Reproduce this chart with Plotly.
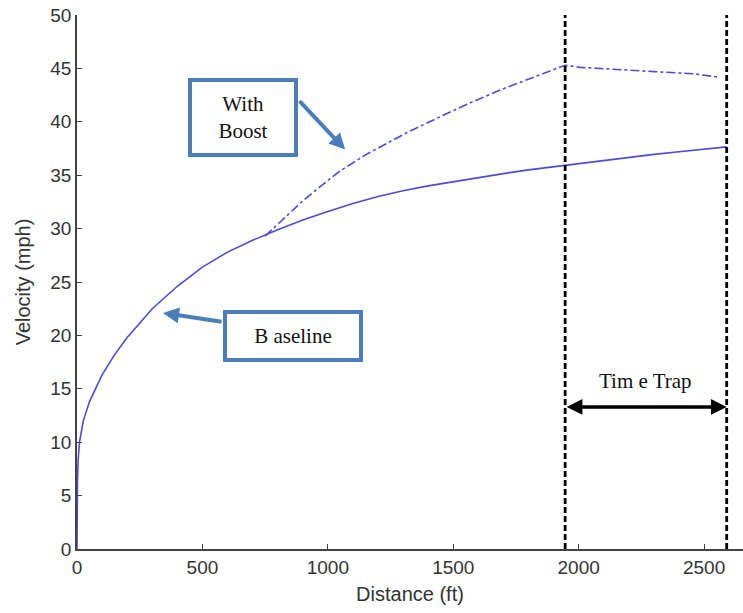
import plotly.graph_objects as go

# Baseline run: distance (ft) vs velocity (mph)
base_dist = [0, 0.5, 2, 5, 10, 25, 50, 100, 150, 200, 300, 400, 500, 600, 700,
             800, 900, 1000, 1100, 1200, 1300, 1400, 1500, 1600, 1700, 1800,
             1900, 2000, 2100, 2200, 2300, 2400, 2500, 2590]
base_vel = [0, 4.0, 6.5, 8.5, 10.0, 12.0, 13.8, 16.3, 18.2, 19.8, 22.5, 24.6,
            26.4, 27.8, 28.9, 29.9, 30.8, 31.6, 32.35, 33.0, 33.55, 34.0, 34.4,
            34.8, 35.15, 35.5, 35.8, 36.1, 36.4, 36.7, 36.95, 37.2, 37.45, 37.65]

# Run with boost engaged from ~750 ft
boost_dist = [750, 781, 900, 1000, 1049, 1150, 1316, 1450, 1580, 1700, 1800,
              1880, 1946, 2005, 2100, 2193, 2300, 2456, 2552]
boost_vel = [29.3, 30.0, 32.6, 34.5, 35.4, 36.9, 39.0, 40.5, 41.9, 43.1, 44.0,
             44.7, 45.3, 45.1, 44.95, 44.8, 44.7, 44.5, 44.2]

# Time trap boundaries (ft)
trap_edges = [1946, 2590]

x_ticks = [0, 500, 1000, 1500, 2000, 2500]
y_ticks = [0, 5, 10, 15, 20, 25, 30, 35, 40, 45, 50]

line_blue = "#4b4bdc"
box_blue = "#4a7ebb"

fig = go.Figure()

fig.add_trace(go.Scatter(x=base_dist, y=base_vel, mode="lines",
                         line=dict(color=line_blue, width=1.6),
                         showlegend=False))
fig.add_trace(go.Scatter(x=boost_dist, y=boost_vel, mode="lines",
                         line=dict(color=line_blue, width=1.6, dash="dashdot"),
                         showlegend=False))

for xe in trap_edges:
    fig.add_trace(go.Scatter(x=[xe, xe], y=[0, 50], mode="lines",
                             line=dict(color="black", width=2.8, dash="6px,3px"),
                             showlegend=False))

serif = "Liberation Serif"
label_font = dict(family=serif, size=21, color="#111")
annotations = [
    # "With Boost" label box and arrow
    dict(x=662, y=40.4, xref="x", yref="y", text="With<br>Boost", showarrow=False,
         font=label_font, bgcolor="white", bordercolor=box_blue, borderwidth=4,
         borderpad=2, width=98, height=67),
    dict(x=1069, y=37.4, xref="x", yref="y", text="", showarrow=True,
         ax=-47, ay=-50, arrowcolor=box_blue, arrowwidth=4, arrowhead=2,
         arrowsize=0.8),
    # "Baseline" label box and arrow
    dict(x=861, y=19.9, xref="x", yref="y", text="B aseline", showarrow=False,
         font=label_font, bgcolor="white", bordercolor=box_blue, borderwidth=4,
         borderpad=2, width=128, height=40),
    dict(x=343, y=22.1, xref="x", yref="y", text="", showarrow=True,
         ax=60, ay=9, arrowcolor=box_blue, arrowwidth=4, arrowhead=2,
         arrowsize=0.8),
    # Time trap span
    dict(x=sum(trap_edges) / 2, y=15.7, xref="x", yref="y", text="Tim e Trap",
         showarrow=False, font=label_font),
    dict(x=trap_edges[1], y=13.3, xref="x", yref="y", ax=trap_edges[0], ay=13.3,
         axref="x", ayref="y", text="", showarrow=True, arrowside="end+start",
         arrowcolor="black", arrowwidth=3.5, arrowhead=2, arrowsize=0.9),
]

tick_font = dict(family="Liberation Sans", size=19, color="#333")
title_font = dict(family="Liberation Sans", size=20, color="#333")

fig.update_layout(
    width=743, height=613,
    margin=dict(l=77, r=0, t=15, b=64),
    paper_bgcolor="white", plot_bgcolor="white",
    font=tick_font,
    annotations=annotations,
    xaxis=dict(range=[0, 2655], tickvals=x_ticks, ticks="inside", ticklen=5,
               tickcolor="#444", showline=True, linecolor="#444", linewidth=1.5,
               showgrid=False, zeroline=False, tickfont=tick_font,
               title=dict(text="Distance (ft)", font=title_font, standoff=10)),
    yaxis=dict(range=[0, 50], tickvals=y_ticks, ticks="inside", ticklen=5,
               tickcolor="#444", showline=True, linecolor="#444", linewidth=1.5,
               showgrid=False, zeroline=False, tickfont=tick_font,
               title=dict(text="Velocity (mph)", font=title_font, standoff=14)),
)

fig.write_html("out.html")
